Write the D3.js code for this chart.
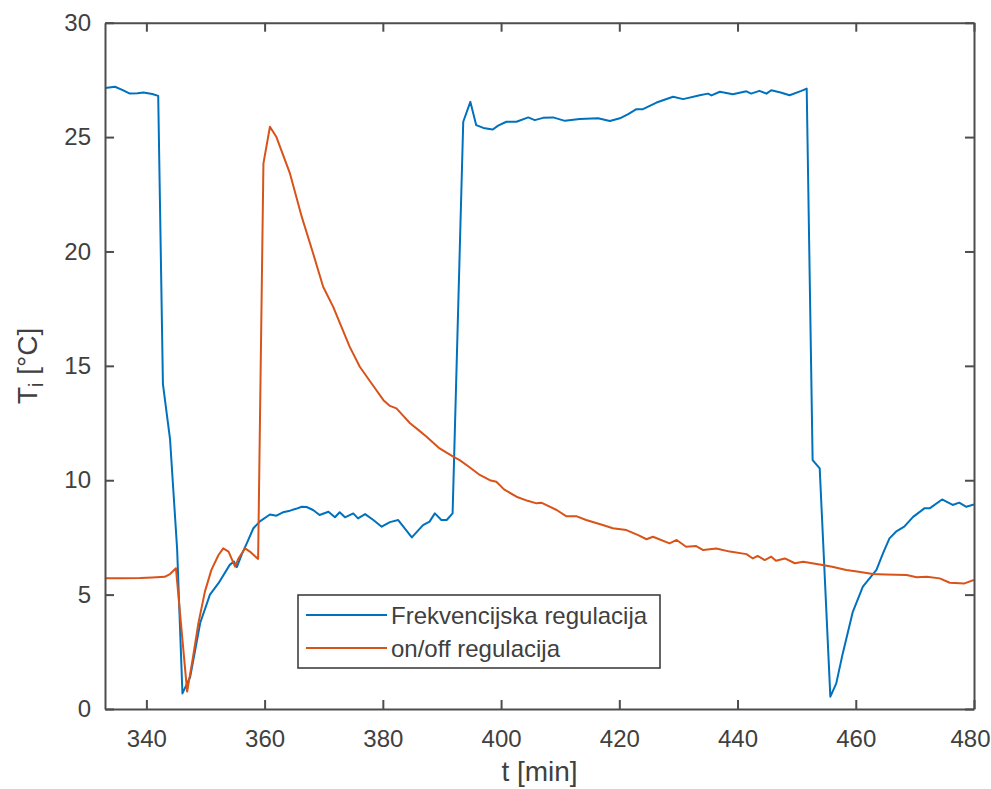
<!DOCTYPE html>
<html>
<head>
<meta charset="utf-8">
<script src="https://cdn.jsdelivr.net/npm/d3@7"></script>
<style>
  html, body { margin: 0; padding: 0; background: #fff; }
  svg { display: block; }
  text { font-family: "Liberation Sans", Arial, sans-serif; fill: #404040; }
</style>
</head>
<body>
<svg id="chart" width="991" height="789"></svg>
<script>
// ---- data ----
const seriesNames = ["Frekvencijska regulacija", "on/off regulacija"];
const xTicks = [340, 360, 380, 400, 420, 440, 460, 480];
const yTicks = [0, 5, 10, 15, 20, 25, 30];

const freqT = [333, 334.7, 336, 337.2, 338.5, 339.5, 341, 342, 342.8, 344, 345.2, 346.1, 347.4, 348.2, 349.1, 350.75, 352.2, 354.1, 354.8, 355.3, 356.2, 357, 358.1, 359.2, 360.9, 362, 363.1, 364.3, 365.3, 366.3, 367.1, 368.2, 369.3, 370.8, 371.9, 372.7, 373.6, 375, 375.8, 377, 378.4, 379.8, 381.2, 382.6, 384.9, 386.8, 387.9, 388.8, 389.9, 390.8, 391.8, 393.6, 394.8, 395.8, 397, 398.6, 399.5, 400.9, 402.6, 404.6, 405.7, 407.1, 408.8, 410.8, 413.3, 416.4, 418.4, 420.1, 421.5, 422.9, 424, 426.3, 429.1, 430.8, 433.6, 435, 435.6, 437, 439.2, 441.5, 442.3, 443.7, 444.9, 445.7, 447.3, 448.8, 450.8, 451.7, 452.7, 453.9, 455.7, 456.7, 457.8, 459.5, 461.2, 463.5, 464.6, 465.7, 466.8, 468.2, 469.7, 471.6, 472.5, 474.6, 476.4, 477.5, 478.7, 480];
const freqV = [27.14, 27.2, 27.05, 26.9, 26.92, 26.95, 26.88, 26.8, 14.2, 11.8, 7.0, 0.68, 1.4, 2.5, 3.76, 5.0, 5.5, 6.3, 6.45, 6.2, 6.8, 7.25, 7.9, 8.2, 8.5, 8.45, 8.6, 8.67, 8.75, 8.84, 8.83, 8.7, 8.48, 8.62, 8.38, 8.6, 8.38, 8.55, 8.33, 8.52, 8.26, 7.97, 8.17, 8.26, 7.5, 8.04, 8.19, 8.55, 8.26, 8.26, 8.55, 25.67, 26.54, 25.52, 25.4, 25.33, 25.5, 25.67, 25.67, 25.86, 25.74, 25.84, 25.86, 25.71, 25.79, 25.82, 25.7, 25.82, 26.0, 26.22, 26.22, 26.51, 26.76, 26.66, 26.83, 26.9, 26.82, 26.98, 26.87, 27.0, 26.9, 27.02, 26.9, 27.05, 26.95, 26.83, 27.02, 27.12, 10.88, 10.52, 0.54, 1.12, 2.43, 4.25, 5.35, 6.08, 6.8, 7.46, 7.75, 7.97, 8.4, 8.77, 8.77, 9.16, 8.92, 9.02, 8.84, 8.94];

const onoffT = [333, 336, 339, 341, 343.1, 344, 345, 346.9, 347.9, 348.8, 349.9, 351, 352.2, 353, 353.9, 355, 355.6, 356.7, 357.5, 358.9, 359.8, 360.9, 362, 364.3, 366.3, 368.2, 369.9, 371.6, 373, 374.4, 376.1, 378.1, 380.1, 381.2, 382.3, 383.5, 384.6, 386, 387.4, 389.6, 391.9, 393, 394.5, 396.4, 398.1, 399.2, 400.5, 402.6, 404.5, 406, 406.8, 409.4, 411, 412.7, 414.4, 417.2, 418.9, 421.2, 423.2, 424.6, 425.7, 428.5, 429.7, 431.3, 433, 434.2, 436.4, 438.7, 441.5, 442.6, 443.4, 444.6, 445.7, 446.5, 448, 449.7, 451.1, 454.4, 456, 458.4, 460.5, 462.9, 465, 468.6, 470.3, 472, 474.2, 475.9, 478.4, 480];
const onoffV = [5.71, 5.72, 5.73, 5.75, 5.78, 5.9, 6.15, 0.76, 2.29, 3.75, 5.13, 6.08, 6.73, 7.02, 6.88, 6.22, 6.59, 7.02, 6.88, 6.56, 23.85, 25.45, 25.0, 23.4, 21.5, 19.92, 18.46, 17.58, 16.7, 15.83, 14.96, 14.23, 13.5, 13.25, 13.14, 12.8, 12.49, 12.2, 11.9, 11.39, 11.03, 10.88, 10.6, 10.23, 10.0, 9.93, 9.6, 9.28, 9.1, 8.99, 9.02, 8.7, 8.43, 8.43, 8.26, 8.04, 7.9, 7.82, 7.6, 7.42, 7.53, 7.24, 7.39, 7.09, 7.12, 6.95, 7.02, 6.88, 6.77, 6.58, 6.69, 6.51, 6.66, 6.48, 6.58, 6.37, 6.44, 6.29, 6.22, 6.08, 6.0, 5.9, 5.88, 5.86, 5.76, 5.78, 5.71, 5.52, 5.49, 5.64];

const colors = ["#0072BD", "#D95319"];

// ---- layout ----
const L = 105, R = 974, T = 22.7, B = 709;
const svg = d3.select("#chart");
const x = d3.scaleLinear().domain([333, 480]).range([L, R]);
const y = d3.scaleLinear().domain([0, 30]).range([B, T]);
const axisColor = "#4d4d4d";

// lines
const line = d3.line().x(d => x(d[0])).y(d => y(d[1]));
const series = [
  d3.zip(freqT, freqV),
  d3.zip(onoffT, onoffV)
];
svg.append("defs").append("clipPath").attr("id", "clip")
  .append("rect").attr("x", L).attr("y", T).attr("width", R - L).attr("height", B - T);
const g = svg.append("g").attr("clip-path", "url(#clip)");
series.forEach((s, i) => {
  g.append("path").datum(s)
    .attr("d", line)
    .attr("fill", "none")
    .attr("stroke", colors[i])
    .attr("stroke-width", 2)
    .attr("stroke-linejoin", "round");
});

// axes
function styleAxis(sel) {
  sel.select(".domain").attr("stroke", axisColor).attr("stroke-width", 2);
  sel.selectAll(".tick line").attr("stroke", axisColor).attr("stroke-width", 2);
  sel.selectAll(".tick text").attr("fill", "#404040").style("font-size", "24px")
    .style("font-family", '"Liberation Sans", Arial, sans-serif');
}
const xAxisG = svg.append("g").attr("transform", `translate(0,${B})`)
  .call(d3.axisBottom(x).tickValues(xTicks).tickSize(-9).tickSizeOuter(0).tickPadding(21))
  .call(styleAxis);
// keep the last label inside the picture
xAxisG.selectAll(".tick text").filter(d => d === xTicks[xTicks.length - 1]).attr("dx", -4);

svg.append("g").attr("transform", `translate(0,${T})`)
  .call(d3.axisTop(x).tickValues(xTicks).tickSize(-9).tickSizeOuter(0).tickFormat(""))
  .call(styleAxis);
svg.append("g").attr("transform", `translate(${L},0)`)
  .call(d3.axisLeft(y).tickValues(yTicks).tickSize(-9).tickSizeOuter(0).tickPadding(14))
  .call(styleAxis);
svg.append("g").attr("transform", `translate(${R},0)`)
  .call(d3.axisRight(y).tickValues(yTicks).tickSize(-9).tickSizeOuter(0).tickFormat(""))
  .call(styleAxis);

// axis labels
svg.append("text")
  .attr("x", (L + R) / 2).attr("y", 781)
  .attr("text-anchor", "middle")
  .style("font-size", "28px")
  .text("t [min]");

const yl = svg.append("text")
  .attr("transform", `translate(37,${(T + B) / 2}) rotate(-90)`)
  .attr("text-anchor", "middle")
  .style("font-size", "28px");
yl.append("tspan").text("T");
yl.append("tspan").attr("dy", 6).style("font-size", "20px").text("i");
yl.append("tspan").attr("dy", -6).text(" [°C]");

// legend
const lg = svg.append("g");
lg.append("rect").attr("x", 298).attr("y", 595).attr("width", 362).attr("height", 73)
  .attr("fill", "#fff").attr("stroke", "#333").attr("stroke-width", 1.5);
seriesNames.forEach((name, i) => {
  const cy = 615 + i * 33;
  lg.append("line").attr("x1", 306).attr("x2", 387).attr("y1", cy).attr("y2", cy)
    .attr("stroke", colors[i]).attr("stroke-width", 2);
  lg.append("text").attr("x", 391).attr("y", cy + 9)
    .style("font-size", "24px").attr("fill", "#1a1a1a").text(name);
});
</script>
</body>
</html>
